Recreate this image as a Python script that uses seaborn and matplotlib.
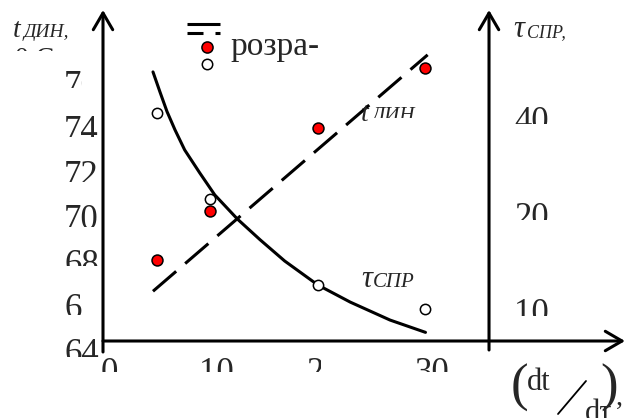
import seaborn as sns
import matplotlib.pyplot as plt
from matplotlib.lines import Line2D
from matplotlib.transforms import Bbox

# values
x_exp = [5, 10, 20, 30]                    # dt/dτ
t_exp = [68.1, 70.3, 74.0, 76.7]           # t_дин, red points
tau_exp = [41.9, 22.5, 12.1, 10.2]         # τ_спр, open points

x_t_calc = [4.65, 30.2]                    # calculated t_дин (dashed)
t_calc = [66.7, 77.3]
x_tau_calc = [4.65, 5.3, 5.95, 6.7, 7.6, 9.0, 10.4, 12.5, 14.6, 16.9,
              20.0, 23.0, 26.7, 30.0]
tau_calc = [56.4, 48.8, 42.4, 37.1, 32.1, 27.2, 23.2, 19.5, 16.8, 14.4,
            12.1, 10.7, 9.4, 8.6]

x_ticks = [0, 10, 20, 30]
t_ticks = [76, 74, 72, 70, 68, 66, 64]
tau_ticks = [40, 20, 10]
x_right_axis = 35.91

W, H = 625, 418
sns.set_theme(style="white")
plt.rcParams["font.family"] = ["Liberation Serif", "DejaVu Serif"]


def fx(x):
    return x / W


def fy(y):
    return 1 - y / H


def clip(t, y_bottom=None, x_right=None):
    # hide the part of a text below / right of a picture pixel line
    y0 = 0 if y_bottom is None else H - y_bottom
    x1 = W if x_right is None else x_right
    t.set_clip_box(Bbox.from_extents(0, y0, x1, H))
    t.set_clip_on(True)


fig = plt.figure(figsize=(W / 100, H / 100), dpi=100)
ax = fig.add_axes([fx(103), fy(341), (W - 103) / W, (341 - 10) / H])
ax2 = ax.twinx()
ax2.set_yscale("log")

sns.lineplot(x=x_t_calc, y=t_calc, ax=ax, color="black", lw=2.2,
             linestyle=(0, (10, 3.9)))
sns.scatterplot(x=x_exp, y=t_exp, ax=ax, color="red", edgecolor="black",
                linewidth=1.1, s=62, zorder=5)
sns.lineplot(x=x_tau_calc, y=tau_calc, ax=ax2, color="black", lw=2.2)
sns.scatterplot(x=x_exp, y=tau_exp, ax=ax2, color="white", edgecolor="black",
                linewidth=1.1, s=55, zorder=5)

ax.set_xlim(0, 48.56)
ax.set_ylim(64.47, 79.31)
ax2.set_ylim(8.08, 88.2)
for a in (ax, ax2):
    a.set_axis_off()

# axes drawn as arrows
arrow = dict(arrowstyle="->,head_length=0.6,head_width=0.35", lw=2.2,
             color="black", shrinkA=0, shrinkB=0, mutation_scale=20)
ax.annotate("", xy=(0, 1), xytext=(0, -11 / 331), xycoords="axes fraction",
            arrowprops=arrow, annotation_clip=False)
ax.annotate("", xy=(1, 0), xytext=(0, 0), xycoords="axes fraction",
            arrowprops=arrow, annotation_clip=False)
ax.annotate("", xy=(x_right_axis, 1), xytext=(x_right_axis, -9 / 331),
            xycoords=ax.get_xaxis_transform(), arrowprops=arrow,
            annotation_clip=False)

# tick labels (partly cut off, as in the scan)
t_clip_below = [4.5, 8.5, 9, 9, 4, 8, 6]
t_clip_width = [18, None, None, None, None, 18, None]
for v, cb, cw in zip(t_ticks, t_clip_below, t_clip_width):
    cy = H - ax.transData.transform((0, v))[1]
    t = fig.text(fx(64), fy(cy + 11.5), str(v), size=25, ha="left", va="baseline")
    clip(t, cy + cb, None if cw is None else 64 + cw)

x_clip_right = [None, None, 3, None]
for v, cr in zip(x_ticks, x_clip_right):
    cx = ax.transData.transform((v, 70))[0]
    t = fig.text(fx(cx + 6), fy(382), str(v), size=25, ha="center", va="baseline")
    clip(t, 372, None if cr is None else cx + cr)

for v in tau_ticks:
    cy = H - ax2.transData.transform((0, v))[1]
    t = fig.text(fx(514), fy(cy + 11.5), str(v), size=25, ha="left", va="baseline")
    clip(t, cy + 4.5)

# axis titles
fig.text(fx(13), fy(37), "t", size=20, style="italic", va="baseline")
fig.text(fx(24), fy(37), "ДИН,", size=14, style="italic", va="baseline")
t = fig.text(fx(15), fy(66), "0 С", size=20, va="baseline")
clip(t, 51)

fig.text(fx(513), fy(37), "τ", size=22, style="italic", va="baseline")
fig.text(fx(527), fy(37), "СПР,", size=13, style="italic", va="baseline")

# curve labels
fig.text(fx(361), fy(121), "t", size=20, style="italic", va="baseline")
t = fig.text(fx(372), fy(121), "ДИН,", size=15, style="italic", va="baseline")
clip(t, 118)
fig.text(fx(361), fy(287), "τ", size=22, style="italic", va="baseline")
fig.text(fx(373), fy(287), "СПР", size=15, style="italic", va="baseline")

# x axis title (dt/dτ),
fig.text(fx(511), fy(401), "(", size=38, va="baseline")
fig.text(fx(527), fy(390), "dt", size=22, va="baseline")
fig.add_artist(Line2D([fx(558), fx(586)], [fy(414), fy(381)], color="black", lw=1.3))
fig.text(fx(585), fy(421), "dτ", size=22, va="baseline")
fig.text(fx(600), fy(401), ")", size=38, va="baseline")
fig.text(fx(616), fy(405), ",", size=20, va="baseline")

# legend
fig.add_artist(Line2D([fx(187), fx(220)], [fy(24), fy(24)], color="black",
                      lw=2.2, solid_capstyle="butt"))
fig.add_artist(Line2D([fx(187), fx(203)], [fy(32.5), fy(32.5)], color="black",
                      lw=2.2, solid_capstyle="butt"))
fig.add_artist(Line2D([fx(215), fx(220)], [fy(32.5), fy(32.5)], color="black",
                      lw=2.2, solid_capstyle="butt"))
fig.add_artist(Line2D([fx(207)], [fy(47)], marker="o", ms=8, mfc="red",
                      mec="black", mew=1.1, ls="none"))
fig.add_artist(Line2D([fx(207)], [fy(64)], marker="o", ms=7.5, mfc="white",
                      mec="black", mew=1.1, ls="none"))
fig.text(fx(230), fy(55), "розра-", size=24, va="baseline")

fig.savefig("out.png", dpi=100)
